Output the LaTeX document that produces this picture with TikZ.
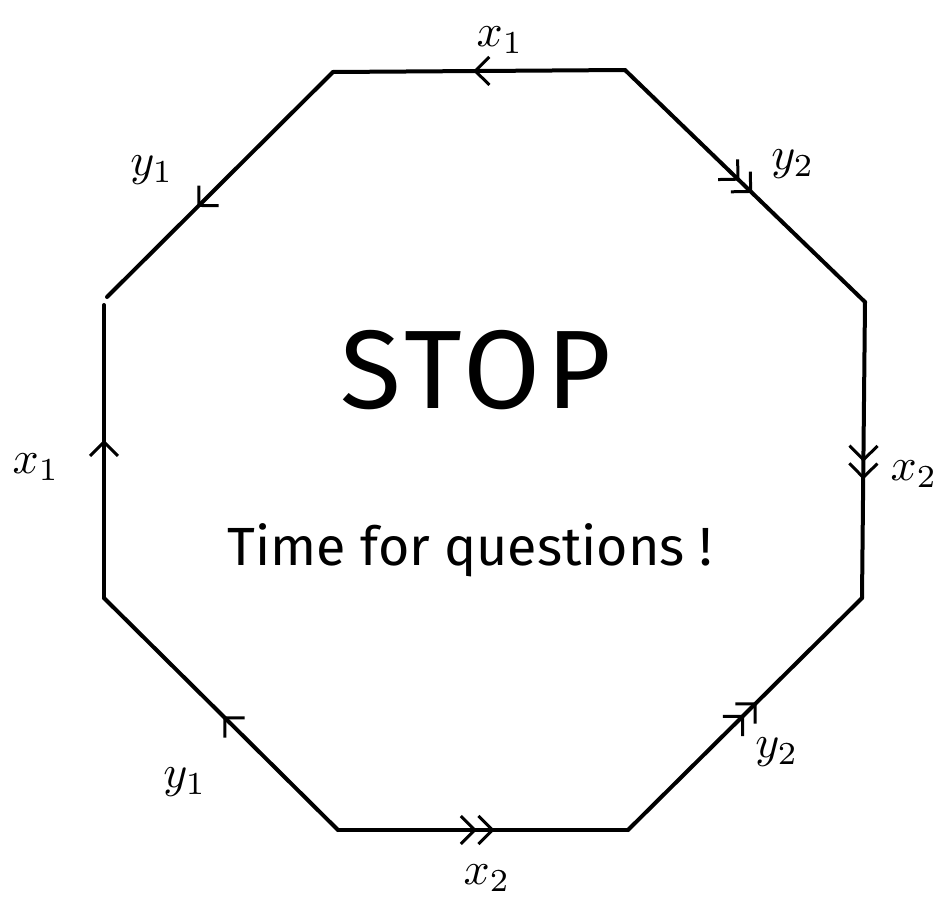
\documentclass[tikz,border=0pt]{standalone}
\usepackage{fontspec}
\setsansfont{Fira Sans}
\usetikzlibrary{arrows.meta,decorations.markings}
\tikzset{
  edge/.style={line width=4bp, line cap=round},
  sarrow/.style={postaction={decorate,decoration={markings,
     mark=at position #1 with {\arrow{Straight Barb[length=14bp,width=28bp,line width=3bp]}}}}},
  darrow/.style={postaction={decorate,decoration={markings,
     mark=at position #1 with {\arrow{Straight Barb[length=14bp,width=28bp,line width=3bp] Straight Barb[length=14bp,width=28bp,line width=3bp]}}}}},
}
\newcommand{\biglab}[1]{\scalebox{4.6}{$#1$}}
\begin{document}
\begin{tikzpicture}[x=1bp,y=-1bp]
\useasboundingbox (0,0) rectangle (949,900);
\coordinate (A) at (333,72);
\coordinate (B) at (625,70);
\coordinate (C) at (865,302);
\coordinate (D) at (862,598);
\coordinate (E) at (628,830);
\coordinate (F) at (338,830);
\coordinate (G) at (104,598);
\coordinate (H) at (104,305);
\coordinate (I) at (107,297);
\draw[edge,sarrow=0.52] (B) -- (A);
\draw[edge,darrow=0.53] (B) -- (C);
\draw[edge,darrow=0.6] (C) -- (D);
\draw[edge,darrow=0.55] (E) -- (D);
\draw[edge,darrow=0.54] (F) -- (E);
\draw[edge,sarrow=0.49] (F) -- (G);
\draw[edge,sarrow=0.54] (G) -- (H);
\draw[edge,sarrow=0.6] (A) -- (I);
\node (l1) at (500,40) {\biglab{x_1}};
\node (l2) at (793,164) {\biglab{y_2}};
\node (l3) at (914,474) {\biglab{x_2}};
\node (l4) at (777,752) {\biglab{y_2}};
\node (l5) at (487,878) {\biglab{x_2}};
\node (l6) at (185,782) {\biglab{y_1}};
\node (l7) at (36,467) {\biglab{x_1}};
\node (l8) at (152,170) {\biglab{y_1}};
\node[font=\sffamily\fontsize{112}{112}\selectfont\addfontfeature{LetterSpace=5}] (stop) at (476,370) {STOP};
\node[font=\sffamily\fontsize{54}{56}\selectfont] (q) at (470,550) {Time for questions !};
\end{tikzpicture}
\end{document}
